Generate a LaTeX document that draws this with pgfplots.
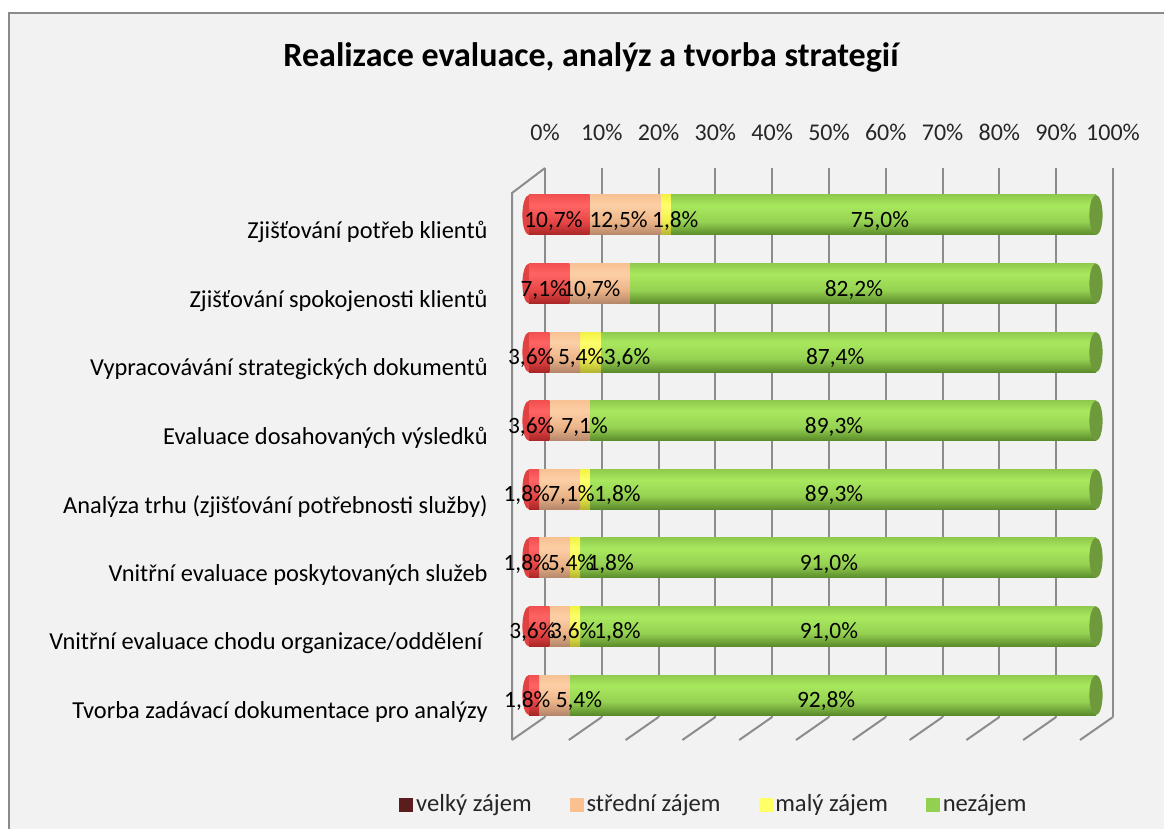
\documentclass[border=0pt]{standalone}
\usepackage{fontspec}
\setmainfont{Carlito}
\usepackage{pgfplots}
\pgfplotsset{compat=1.18}
\usepackage{pgfplotstable}

\definecolor{bg}{HTML}{F2F2F2}
\definecolor{framec}{HTML}{8A8A8A}
\definecolor{gridc}{HTML}{8C8C8C}
\definecolor{txt}{HTML}{262626}
% cylinder colours
\definecolor{rT}{HTML}{F25050}\definecolor{rH}{HTML}{FF6464}\definecolor{rM}{HTML}{E84646}\definecolor{rB}{HTML}{A82626}
\definecolor{pT}{HTML}{F7C294}\definecolor{pH}{HTML}{FDCFA6}\definecolor{pM}{HTML}{ECB488}\definecolor{pB}{HTML}{B4866A}
\definecolor{yT}{HTML}{F2F244}\definecolor{yH}{HTML}{FFFF6C}\definecolor{yM}{HTML}{EEEE50}\definecolor{yB}{HTML}{B4B430}
\definecolor{gT}{HTML}{90CA4E}\definecolor{gH}{HTML}{A8E85E}\definecolor{gM}{HTML}{96D252}\definecolor{gB}{HTML}{5A8A2A}
\definecolor{gcap}{HTML}{6E9A3C}
\definecolor{rcap}{HTML}{E04242}
% legend colours
\definecolor{lg1}{HTML}{5A1C1C}\definecolor{lg2}{HTML}{FAC090}\definecolor{lg3}{HTML}{FFFF66}\definecolor{lg4}{HTML}{92D050}

\pgfdeclareverticalshading{cylred}{100bp}{color(0bp)=(rB); color(25bp)=(rB); color(42bp)=(rM); color(62bp)=(rH); color(75bp)=(rT); color(100bp)=(rT)}
\pgfdeclareverticalshading{cylpeach}{100bp}{color(0bp)=(pB); color(25bp)=(pB); color(42bp)=(pM); color(62bp)=(pH); color(75bp)=(pT); color(100bp)=(pT)}
\pgfdeclareverticalshading{cylyellow}{100bp}{color(0bp)=(yB); color(25bp)=(yB); color(42bp)=(yM); color(62bp)=(yH); color(75bp)=(yT); color(100bp)=(yT)}
\pgfdeclareverticalshading{cylgreen}{100bp}{color(0bp)=(gB); color(25bp)=(gB); color(42bp)=(gM); color(62bp)=(gH); color(75bp)=(gT); color(100bp)=(gT)}

\pgfdeclareplotmark{capell}{\pgfpathellipse{\pgfpointorigin}{\pgfqpoint{3.3pt}{0pt}}{\pgfqpoint{0pt}{10pt}}\pgfusepathqfill}

\pgfplotstableread{
row vz sz mz nz
0 10.7 12.5 1.8 75.0
1 7.1 10.7 0 82.2
2 3.6 5.4 3.6 87.4
3 3.6 7.1 0 89.3
4 1.8 7.1 1.8 89.3
5 1.8 5.4 1.8 91.0
6 3.6 3.6 1.8 91.0
7 1.8 5.4 0 92.8
}\bardata

\pgfplotstableread{
row left right
0 0 100
1 0 100
2 0 100
3 0 100
4 0 100
5 0 100
6 0 100
7 0 100
}\captab

\pgfplotstableread{
x row v
4.3 0 10.7
15.8 0 12.5
25.8 0 1.8
61.9 0 75.0
2.6 1 7.1
11.0 1 10.7
57.3 1 82.2
0.4 2 3.6
9.2 2 5.4
17.3 2 3.6
54.0 2 87.4
0.4 3 3.6
9.8 3 7.1
53.8 3 89.3
-0.4 4 1.8
7.5 4 7.1
15.6 4 1.8
53.8 4 89.3
-0.4 5 1.8
7.4 5 5.4
14.4 5 1.8
52.9 5 91.0
0.6 6 3.6
7.8 6 3.6
15.6 6 1.8
52.9 6 91.0
-0.3 7 1.8
8.8 7 5.4
52.4 7 92.8
}\lbltab

\pgfplotsset{barbox/.style={scale only axis, width=283.5pt, height=274.3pt,
  at={(264.5pt,-90.35pt)}, anchor=north west,
  xmin=0, xmax=100, ymin=-0.5, ymax=7.5, y dir=reverse,
  axis line style={draw=none}, major tick length=0pt,
  xtick=\empty, ytick=\empty, clip=false}}

\begin{document}
\begin{tikzpicture}[x=1pt,y=1pt]
\fill[white] (0,0) rectangle (582,-414.5);
\useasboundingbox (0,0) rectangle (582,-414.5);
\fill[bg] (4.5,-6.5) rectangle (582,-414.5);
\draw[framec, line width=1pt] (4.5,-414.5) -- (4.5,-6.5) -- (582,-6.5);

\node[anchor=base, text=black, font=\fontsize{17}{20}\selectfont\bfseries] at (295.5,-33.5) {Realizace evaluace, analýz a tvorba strategií};

% back plane: grid, tick labels, legend
\begin{axis}[scale only axis, width=284pt, height=274.5pt,
  at={(272.5pt,-84pt)}, anchor=north west,
  xmin=0, xmax=100, ymin=0, ymax=1,
  xtick={0,10,...,100},
  xticklabels={0\%,10\%,20\%,30\%,40\%,50\%,60\%,70\%,80\%,90\%,100\%},
  ytick=\empty, xmajorgrids, major grid style={gridc, line width=1pt},
  axis line style={draw=none}, major tick length=0pt,
  xticklabel pos=upper,
  xticklabel style={anchor=center, yshift=18pt, font=\fontsize{12}{14}\selectfont, text=txt},
  legend columns=4,
  legend style={at={(-0.257,-0.16)}, anchor=west, draw=none, fill=none, inner sep=0pt,
    font=\fontsize{12.3}{14}\selectfont, text=txt,
    nodes={inner sep=1.5pt},
    /tikz/every even column/.append style={column sep=17.5pt}},
]
\addlegendimage{legend image code/.code={\fill[lg1] (0pt,-3.25pt) rectangle (6.5pt,3.25pt);}}
\addlegendimage{legend image code/.code={\fill[lg2] (0pt,-3.25pt) rectangle (6.5pt,3.25pt);}}
\addlegendimage{legend image code/.code={\fill[lg3] (0pt,-3.25pt) rectangle (6.5pt,3.25pt);}}
\addlegendimage{legend image code/.code={\fill[lg4] (0pt,-3.25pt) rectangle (6.5pt,3.25pt);}}
\legend{velký zájem, střední zájem, malý zájem, nezájem}
\end{axis}

% wall and floor lines (pixel coordinates)
\begin{scope}[x=0.5pt,y=-0.5pt, gridc, line width=1pt]
\draw (512,740) -- (512,193) -- (545,168);
\foreach \k in {0,...,10} {\draw (545+56.8*\k,717) -- (512+56.8*\k,740);}
\end{scope}

% left bulges of the cylinders and category labels
\begin{axis}[barbox,
  ytick={0,...,7},
  yticklabels={Zjišťování potřeb klientů, Zjišťování spokojenosti klientů, Vypracovávání strategických dokumentů, Evaluace dosahovaných výsledků, Analýza trhu (zjišťování potřebnosti služby), Vnitřní evaluace poskytovaných služeb, Vnitřní evaluace chodu organizace/oddělení\hspace*{2.5pt}, Tvorba zadávací dokumentace pro analýzy},
  yticklabel style={anchor=east, inner sep=0pt, xshift=-20.5pt, yshift=-8.5pt, font=\fontsize{12.2}{14}\selectfont, text=black}]
\addplot[only marks, mark=capell, mark options={fill=rcap, draw=none}] table[x=left, y=row]{\captab};
\end{axis}

% stacked cylinders, one axis per row so that each bar gets its own shading
\foreach \r in {0,...,7}{
\begin{axis}[barbox, xbar stacked, bar width=20pt, restrict y to domain=\r:\r]
\addplot[draw=none, shade, shading=cylred] table[x=vz, y=row]{\bardata};
\addplot[draw=none, shade, shading=cylpeach] table[x=sz, y=row]{\bardata};
\addplot[draw=none, shade, shading=cylyellow] table[x=mz, y=row]{\bardata};
\addplot[draw=none, shade, shading=cylgreen] table[x=nz, y=row]{\bardata};
\end{axis}
}

% end caps and data labels
\begin{axis}[barbox]
\addplot[only marks, mark=capell, mark options={fill=gcap, draw=none}] table[x=right, y=row]{\captab};
\addplot[only marks, mark=*, mark size=0pt, mark options={draw=none, fill=none},
  point meta=explicit,
  nodes near coords={\pgfmathprintnumber[fixed, fixed zerofill, precision=1, use comma, assume math mode=true]{\pgfplotspointmeta}\%},
  every node near coord/.append style={anchor=center, inner sep=0pt, yshift=-3pt, font=\fontsize{11.7}{13}\selectfont, text=black}]
  table[x=x, y=row, meta=v]{\lbltab};
\end{axis}
\end{tikzpicture}
\end{document}
